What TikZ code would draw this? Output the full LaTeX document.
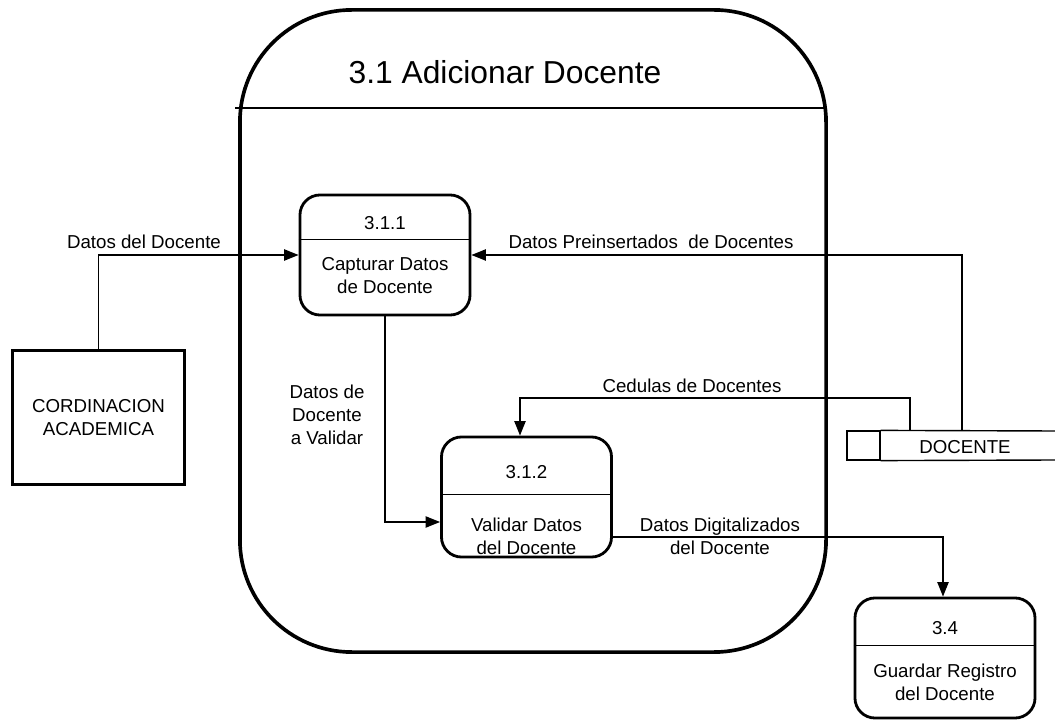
\documentclass[tikz,border=0pt]{standalone}
\usepackage{fontspec}
\setmainfont{Liberation Sans}
\usetikzlibrary{calc,arrows.meta}

\tikzset{
    proc/.style={draw, line width=2pt, rounded corners=0.5cm, minimum width=4.25cm, minimum height=3cm, inner sep=0pt},
    lbl/.style={font=\fontsize{13.3}{16.3}\selectfont, inner sep=0pt, align=center},
    flow/.style={line width=1pt, -{Triangle[length=3.6mm, width=2.8mm]}},
    divline/.style={line width=1pt}
}

\begin{document}
\begin{tikzpicture}[x=0.025cm, y=-0.025cm]
    \useasboundingbox (0,0) rectangle (1055,721);

    % subsystem 3.1
    \node[draw, line width=2.6pt, rounded corners=2.8cm, minimum width=14.65cm, minimum height=16.05cm] (sub) at (533,331) {};
    \draw[divline] ($(sub.west |- 0,108)+(-3,0)$) -- ($(sub.east |- 0,108)+(-4,0)$);
    \node[font=\fontsize{22.6}{26}\selectfont, inner sep=0pt] (title) at (505,72) {3.1 Adicionar Docente};

    % processes
    \node[proc] (p1) at (385,255) {}; \node[proc] (p2) at (526.5,497) {};
    \node[proc, minimum width=4.5cm] (p34) at (945,658) {};
    \foreach \p/\d in {p1/46, p2/59, p34/49} {
        \draw[divline] ($(\p.north west)+(0,\d)$) -- ($(\p.north east)+(0,\d)$);
    }
    \node[lbl] (n1) at (385,223) {3.1.1}; \node[lbl] (t1) at (385,276) {Capturar Datos\\de Docente};
    \node[lbl] (n2) at (526.5,472) {3.1.2}; \node[lbl] (t2) at (526.5,536) {Validar Datos\\del Docente};
    \node[lbl] (n34) at (945,628) {3.4}; \node[lbl] (t34) at (945,682) {Guardar Registro\\del Docente};

    % external entity
    \node[draw, line width=2.6pt, minimum width=4.3cm, minimum height=3.35cm, lbl] (ext) at (98.5,417.5) {CORDINACION\\ACADEMICA};

    % data store
    \node[draw, line width=1pt, minimum width=0.82cm, minimum height=0.72cm, inner sep=0pt] (dsq) at (863.5,445.5) {};
    \draw[line width=1pt] (dsq.north east) -- (1055,431) (dsq.south east) -- (1055,460);
    \node[lbl] (doc) at (965,447) {DOCENTE};
    \coordinate (d1) at (962,431); \coordinate (d2) at (910,431);

    % flows
    \draw[flow] (ext.north) |- (p1.west);
    \node[lbl] (f1) at (144,242) {Datos del Docente};
    \draw[flow] (d1) |- (p1.east);
    \node[lbl] (f2) at (651,242) {Datos Preinsertados\ \ de Docentes};
    \draw[flow] (d2) |- (520,398) -- (p2.north -| 520,0);
    \node[lbl] (f3) at (692,386) {Cedulas de Docentes};
    \draw[flow] (p1.south) |- ($(p2.west)+(0,25)$);
    \node[lbl] (f4) at (327,415) {Datos de\\Docente\\a Validar};
    \draw[flow] ($(p2.east)+(0,40)$) -| (p34.north -| 943,0);
    \node[lbl] (f5) at (720,536) {Datos Digitalizados\\del Docente};
\end{tikzpicture}
\end{document}
